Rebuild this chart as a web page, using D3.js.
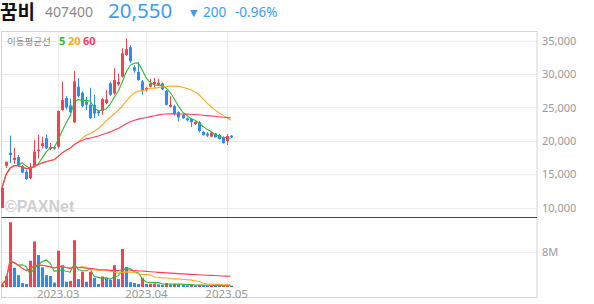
<!DOCTYPE html>
<html>
<head>
<meta charset="utf-8">
<script src="https://cdn.jsdelivr.net/npm/d3@7"></script>
<style>
  body { margin: 0; background: #fff; }
  svg { display: block; }
</style>
</head>
<body>
<div id="main"></div>
<script>
const ctx = {
  SVG_W: 594,
  SVG_H: 304,
  left: 1.5,
  right: 537,
  priceTop: 31,
  priceBottom: 217,
  volTop: 217,
  volBottom: 287,
  frameBottom: 297,
  slots: 134,
};

// trading days
const dates = [
  "2023-02-09","2023-02-10","2023-02-13","2023-02-14","2023-02-15","2023-02-16","2023-02-17",
  "2023-02-20","2023-02-21","2023-02-22","2023-02-23","2023-02-24","2023-02-27","2023-02-28",
  "2023-03-02","2023-03-03","2023-03-06","2023-03-07","2023-03-08","2023-03-09","2023-03-10",
  "2023-03-13","2023-03-14","2023-03-15","2023-03-16","2023-03-17","2023-03-20","2023-03-21",
  "2023-03-22","2023-03-23","2023-03-24","2023-03-27","2023-03-28","2023-03-29","2023-03-30",
  "2023-03-31","2023-04-03","2023-04-04","2023-04-05","2023-04-06","2023-04-07","2023-04-10",
  "2023-04-11","2023-04-12","2023-04-13","2023-04-14","2023-04-17","2023-04-18","2023-04-19",
  "2023-04-20","2023-04-21","2023-04-24","2023-04-25","2023-04-26","2023-04-27","2023-04-28",
  "2023-05-02","2023-05-03"
];
const opens = [
  10000,16300,18250,17150,17600,16250,15400,14450,16200,18500,19250,20400,18800,19100,
  19150,24630,26400,25300,22800,28100,27200,25900,25400,25400,24400,24500,25650,28600,
  27100,28450,29600,32850,34000,31000,30300,28900,27600,28100,28500,28400,28600,27500,
  25100,25200,24300,23900,23400,23300,22500,22800,21350,21100,20650,21100,20900,20600,
  20000,20800
];
const highs = [
  13000,16900,20800,19000,17900,16400,15700,16700,20200,20900,20650,21000,19700,19300,
  24500,28850,26700,26300,30400,29400,27400,26600,27950,26900,24650,26450,27600,28850,
  30850,30100,33850,35300,34300,31300,31700,29100,28100,29300,29400,29300,28700,27600,
  26700,25400,24400,24000,23500,23400,22900,23000,21500,21300,21300,21200,21000,20700,
  21000,20850
];
const lows = [
  10000,16000,16700,16600,16100,15200,14200,14300,16100,17400,18900,18800,18600,18700,
  18900,24500,24700,24200,22700,26500,25000,24600,23300,23400,23700,23900,25500,26700,
  26900,28200,29450,32700,31700,30200,29000,26900,27400,28000,28000,28300,27600,25300,
  25000,23800,22900,23300,22900,22100,22400,21300,20800,20600,20600,20500,20200,19600,
  19400,20400
];
const closes = [
  13000,16900,17900,17500,16250,15300,14300,16150,18400,18700,19650,18900,19100,18850,
  24500,26100,25000,24300,28900,26700,25200,25400,23400,24100,24150,26250,26200,26900,
  29100,28850,33100,33700,31900,30500,29100,27500,27900,28600,28800,28700,27700,25400,
  25400,24000,23500,23400,23100,22800,22850,21500,20900,20800,21250,20550,20300,19700,
  20750,20550
];
// volume in millions of shares
const volumes = [
  0.6,2.5,14.8,4.4,2.7,0.9,0.7,6.0,10.4,7.3,4.5,2.7,2.5,1.0,
  8.3,5.0,1.2,1.4,10.7,1.8,3.5,1.2,3.5,2.1,0.7,2.4,2.0,1.6,
  5.0,1.8,8.7,4.6,1.1,0.9,0.7,2.1,0.7,0.75,0.8,0.6,0.5,0.9,
  0.6,0.7,0.6,0.5,0.4,0.5,0.4,0.5,0.4,0.3,0.35,0.3,0.25,0.35,
  0.4,0.3
];
const priceTicks = [10000, 15000, 20000, 25000, 30000, 35000];
const volumeTicks = [8];
const maPeriods = [5, 20, 60];
const maColors = ["#2fba2f", "#ffa722", "#ff3a5c"];

const UP = "#f7404f";
const DOWN = "#2e8bef";

function movingAvg(values, n) {
  return values.map((v, i) => {
    const s = values.slice(Math.max(0, i - n + 1), i + 1);
    return d3.mean(s);
  });
}

function CreateHeader(svgEl) {
  const g = svgEl.append("g").attr("id", "header");
  g.append("text").attr("x", 0).attr("y", 18.5)
    .style("font-family", "'Noto Sans CJK KR'").style("font-weight", "bold")
    .style("font-size", "19px").style("fill", "#111").text("꿈비");
  g.append("text").attr("x", 45).attr("y", 17)
    .style("font-family", "'Noto Sans'").style("font-size", "14px")
    .style("fill", "#8a8a8a").text("407400");
  g.append("text").attr("x", 108).attr("y", 18)
    .style("font-family", "'Noto Sans'").style("font-size", "20.5px")
    .style("fill", "#3a9cf3").text("20,550");
  g.append("text").attr("x", 190).attr("y", 15.5)
    .style("font-family", "'DejaVu Sans'").style("font-size", "9.5px")
    .style("fill", "#3a9cf3").text("▼");
  g.append("text").attr("x", 203).attr("y", 17)
    .style("font-family", "'Noto Sans'").style("font-size", "13.5px")
    .style("fill", "#3a9cf3").text("200");
  g.append("text").attr("x", 235).attr("y", 17)
    .style("font-family", "'Noto Sans'").style("font-size", "13.5px")
    .style("fill", "#3a9cf3").text("-0.96%");
}

function CreateChart(svgEl) {
  const x = d3.scaleBand()
    .domain(d3.range(ctx.slots))
    .range([ctx.left - 1, ctx.right])
    .paddingInner(0.25);
  const cx = i => x(i) + x.bandwidth() / 2;
  const yP = d3.scaleLinear().domain([8650, 36420]).range([ctx.priceBottom, ctx.priceTop]);
  const yV = d3.scaleLinear().domain([0, 16]).range([ctx.volBottom, ctx.volTop]);

  const grid = svgEl.append("g").attr("id", "grid");

  // month ticks: first trading day of each month after the first
  const monthIdx = dates.map((d, i) => i)
    .filter(i => i > 0 && dates[i].slice(5, 7) !== dates[i - 1].slice(5, 7));

  grid.selectAll(".vgrid").data(monthIdx).enter().append("line")
    .attr("x1", i => Math.round(cx(i)) + 0.5).attr("x2", i => Math.round(cx(i)) + 0.5)
    .attr("y1", ctx.priceTop).attr("y2", ctx.volBottom)
    .style("stroke", "#ececec");

  grid.selectAll(".pgrid").data(priceTicks).enter().append("line")
    .attr("x1", ctx.left).attr("x2", ctx.right)
    .attr("y1", d => Math.round(yP(d)) + 0.5).attr("y2", d => Math.round(yP(d)) + 0.5)
    .style("stroke", "#ececec");

  grid.selectAll(".vlgrid").data(volumeTicks).enter().append("line")
    .attr("x1", ctx.left).attr("x2", ctx.right)
    .attr("y1", d => Math.round(yV(d)) + 0.5).attr("y2", d => Math.round(yV(d)) + 0.5)
    .style("stroke", "#ececec");

  // frame
  svgEl.append("rect")
    .attr("x", ctx.left).attr("y", ctx.priceTop + 0.5)
    .attr("width", ctx.right - ctx.left).attr("height", ctx.frameBottom - ctx.priceTop)
    .style("fill", "none").style("stroke", "#d4d4d4");
  svgEl.append("line")
    .attr("x1", ctx.left).attr("x2", ctx.right)
    .attr("y1", ctx.priceBottom + 0.5).attr("y2", ctx.priceBottom + 0.5)
    .style("stroke", "#444");

  // watermark
  svgEl.append("text").attr("x", 5).attr("y", 212)
    .style("font-family", "'Liberation Sans'").style("font-weight", "bold")
    .style("font-size", "16px").style("fill", "#cfcfcf")
    .text("©PAXNet");

  // axes labels
  const yAxis = d3.axisRight(yP).tickValues(priceTicks).tickSize(0).tickPadding(5)
    .tickFormat(d3.format(","));
  const ay = svgEl.append("g").attr("transform", `translate(${ctx.right},0)`).call(yAxis);
  const vAxis = d3.axisRight(yV).tickValues(volumeTicks).tickSize(0).tickPadding(5)
    .tickFormat(d => d + "M");
  const av = svgEl.append("g").attr("transform", `translate(${ctx.right},0)`).call(vAxis);
  const xAxis = d3.axisBottom(x).tickValues(monthIdx).tickSize(0).tickPadding(0)
    .tickFormat(i => dates[i].slice(0, 7).replace("-", "."));
  const ax = svgEl.append("g").attr("transform", `translate(0,${ctx.volBottom})`).call(xAxis);
  [ay, av, ax].forEach(a => {
    a.select(".domain").remove();
    a.selectAll("text").style("font-family", "'Noto Sans'").style("font-size", "11px")
      .style("fill", "#9a9a9a");
  });
  ax.selectAll("text").attr("dy", "0.95em").style("font-size", "11.5px");

  // candles
  const idx = d3.range(dates.length);
  const candles = svgEl.append("g").attr("id", "candles");
  candles.selectAll("line").data(idx).enter().append("line")
    .attr("x1", i => Math.round(cx(i)) + 0.5).attr("x2", i => Math.round(cx(i)) + 0.5)
    .attr("y1", i => yP(highs[i])).attr("y2", i => yP(lows[i]))
    .style("stroke", i => closes[i] >= opens[i] ? UP : DOWN);
  candles.selectAll("rect").data(idx).enter().append("rect")
    .attr("x", i => Math.round(cx(i)) - 1)
    .attr("width", 3)
    .attr("y", i => Math.min(yP(opens[i]), yP(closes[i])))
    .attr("height", i => Math.max(1.5, Math.abs(yP(opens[i]) - yP(closes[i]))))
    .style("fill", i => closes[i] >= opens[i] ? UP : DOWN);

  // volume bars, coloured by change of volume
  svgEl.append("g").attr("id", "volumes")
    .selectAll("rect").data(idx).enter().append("rect")
    .attr("x", i => Math.round(cx(i)) - 1)
    .attr("width", 3)
    .attr("y", i => yV(volumes[i]))
    .attr("height", i => yV(0) - yV(volumes[i]))
    .style("fill", i => (i === 0 || volumes[i] >= volumes[i - 1]) ? UP : DOWN);

  // moving averages
  const line = yScale => d3.line().x((d, i) => cx(i)).y(d => yScale(d));
  maPeriods.forEach((n, k) => {
    svgEl.append("path").datum(movingAvg(closes, n))
      .attr("d", line(yP))
      .style("fill", "none").style("stroke", maColors[k]).style("stroke-width", 1.1);
    svgEl.append("path").datum(movingAvg(volumes, n))
      .attr("d", line(yV))
      .style("fill", "none").style("stroke", maColors[k]).style("stroke-width", 1.1);
  });

  // legend
  const lg = svgEl.append("g").attr("id", "legend");
  lg.append("text").attr("x", 7).attr("y", 45)
    .style("font-family", "'Noto Sans CJK KR'").style("font-size", "9.5px")
    .style("fill", "#8a8a8a").text("이동평균선");
  const legX = [59, 68, 83];
  maPeriods.forEach((n, k) => {
    lg.append("text").attr("x", legX[k]).attr("y", 45)
      .style("font-family", "'Noto Sans'").style("font-size", "11px")
      .style("font-weight", "bold")
      .style("fill", maColors[k]).text(n);
  });
}

function createViz() {
  const svgEl = d3.select("#main").append("svg")
    .attr("width", ctx.SVG_W).attr("height", ctx.SVG_H);
  CreateHeader(svgEl);
  CreateChart(svgEl);
}

createViz();
</script>
</body>
</html>
